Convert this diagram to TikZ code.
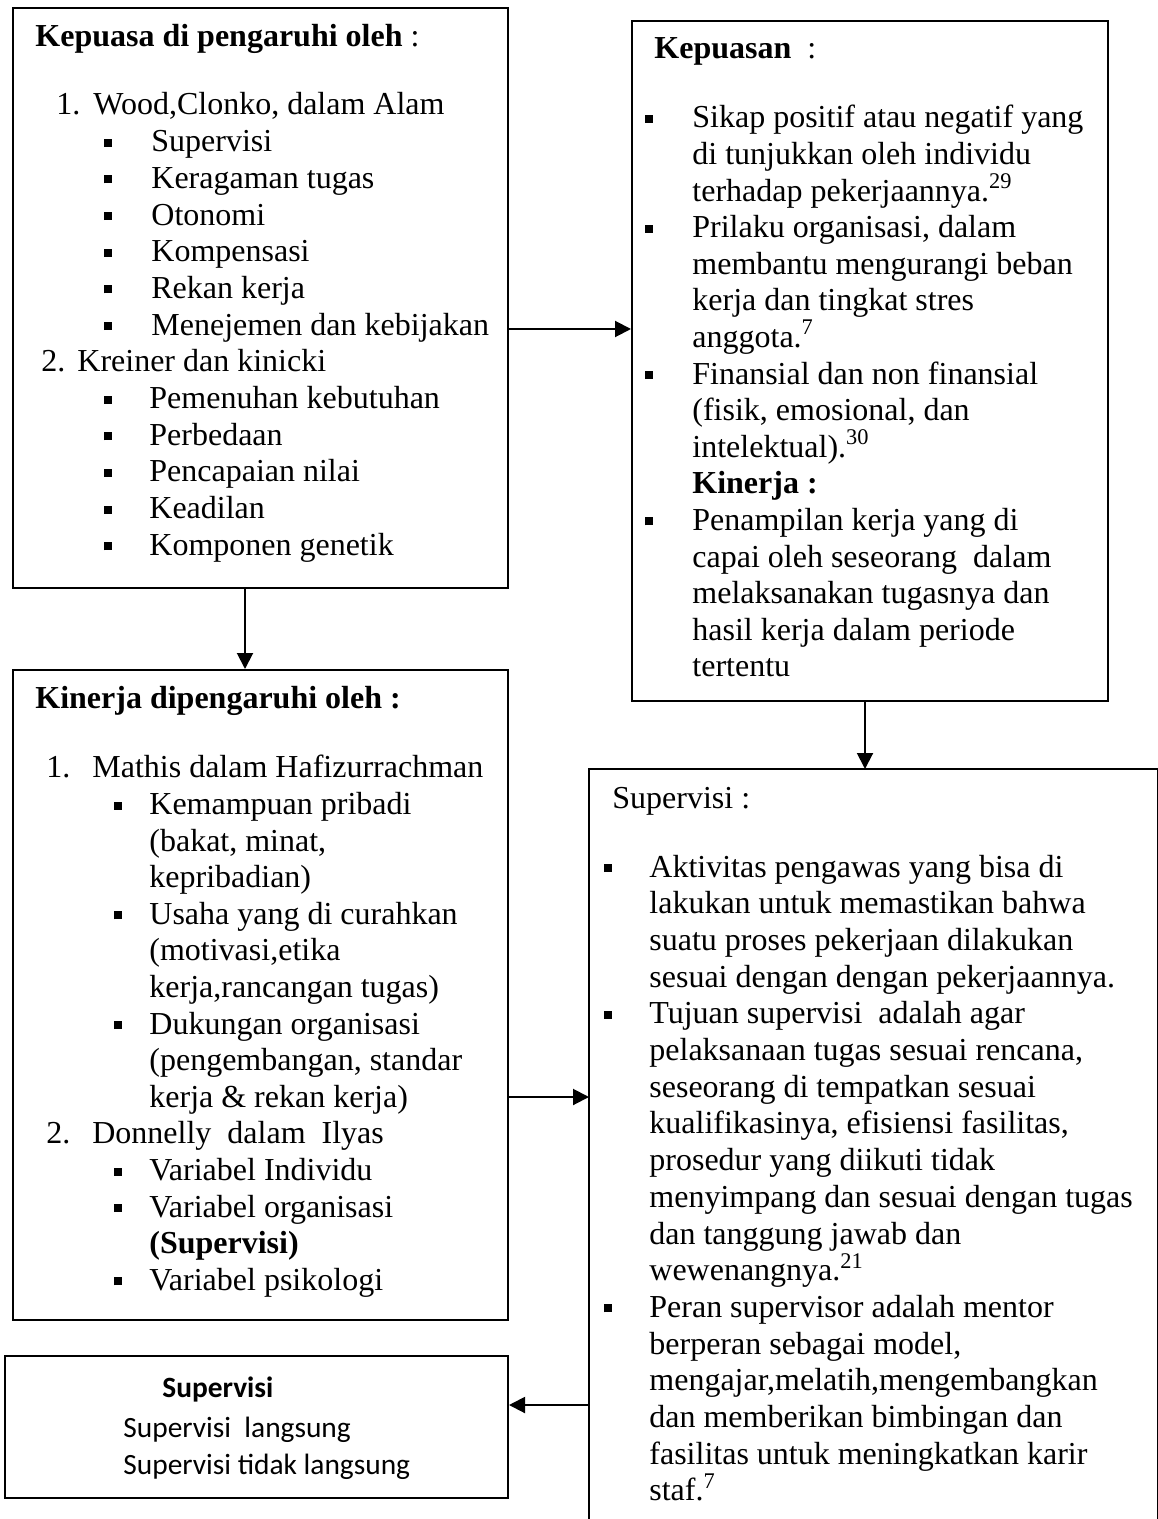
\documentclass[tikz,border=0pt]{standalone}
\usepackage{fontspec}
\setmainfont{Liberation Serif}
\newfontfamily\calib{Carlito}
\usetikzlibrary{arrows.meta}
\newcommand{\bul}{\rule[2.5pt]{4pt}{4pt}}
\newcommand{\one}[2]{\hbox to 0pt{\kern\dimexpr#1pt/2\relax#2\hss}}
\newcommand{\two}[4]{\hbox to 0pt{\rlap{\kern\dimexpr#1pt/2\relax#2}\kern\dimexpr#3pt/2\relax#4\hss}}
\newcommand{\gap}[1]{\vskip\dimexpr#1pt/2\relax}
\newcommand{\blk}[2]{\parbox[t]{1pt}{\fontsize{16pt}{#1pt}\selectfont #2}}
\tikzset{
  box/.style={draw, line width=1pt, inner sep=0, anchor=north west},
  txt/.style={anchor=base west, inner sep=0},
  arr/.style={line width=1pt, -{Triangle[length=8pt,width=8pt]}}
}
\begin{document}
\begin{tikzpicture}[x=0.5pt,y=-0.5pt]
\fill[white] (0,0) rectangle (1157,1519);
\useasboundingbox (0,0) rectangle (1157,1519);
% boxes
\node[box, minimum width=247.5pt, minimum height=290pt] (b1) at (12,7) {};
\node[box, minimum width=238pt, minimum height=340pt] (b2) at (631,20) {};
\node[box, minimum width=247.5pt, minimum height=325pt] (b3) at (12,669) {};
\node[box, draw=none, minimum width=283.5pt, minimum height=400pt] (b4) at (589,769) {};
\draw[line width=1pt] (b4.south west) -- (b4.north west) -- (b4.north east) -- (b4.south east);
\node[box, minimum width=251.5pt, minimum height=71pt] (b5) at (4,1355) {};
% texts
\node[txt] (t1) at (0,47) {\blk{18.35}{%
\one{34}{\textbf{Kepuasa di pengaruhi oleh} :}
\gap{31.3}
\two{55}{1.}{92}{Wood,Clonko, dalam Alam}
\two{103}{\bul}{150}{Supervisi}
\two{103}{\bul}{150}{Keragaman tugas}
\two{103}{\bul}{150}{Otonomi}
\two{103}{\bul}{150}{Kompensasi}
\two{103}{\bul}{150}{Rekan kerja}
\two{103}{\bul}{150}{Menejemen dan kebijakan}
\two{40}{2.}{76}{Kreiner dan kinicki}
\two{103}{\bul}{148}{Pemenuhan kebutuhan}
\two{103}{\bul}{148}{Perbedaan}
\two{103}{\bul}{148}{Pencapaian nilai}
\two{103}{\bul}{148}{Keadilan}
\two{103}{\bul}{148}{Komponen genetik}
}};
\node[txt] (t2) at (0,59) {\blk{18.3}{%
\one{653}{\textbf{Kepuasan}\ \ :}
\gap{32.3}
\two{644}{\bul}{691}{Sikap positif atau negatif yang}
\one{691}{di tunjukkan oleh individu}
\one{691}{terhadap pekerjaannya.\textsuperscript{29}}
\two{644}{\bul}{691}{Prilaku organisasi, dalam}
\one{691}{membantu mengurangi beban}
\one{691}{kerja dan tingkat stres}
\one{691}{anggota.\textsuperscript{7}}
\two{644}{\bul}{691}{Finansial dan non finansial}
\one{691}{(fisik, emosional, dan}
\one{691}{intelektual).\textsuperscript{30}}
\one{691}{\textbf{Kinerja :}}
\two{644}{\bul}{691}{Penampilan kerja yang di}
\one{691}{capai oleh seseorang\ \ dalam}
\one{691}{melaksanakan tugasnya dan}
\one{691}{hasil kerja dalam periode}
\one{691}{tertentu}
}};
\node[txt] (t3) at (0,708) {\blk{18.3}{%
\one{34}{\textbf{Kinerja dipengaruhi oleh :}}
\gap{33.3}
\two{45}{1.}{91}{Mathis dalam Hafizurrachman}
\two{113}{\bul}{148}{Kemampuan pribadi}
\one{148}{(bakat, minat,}
\one{148}{kepribadian)}
\two{113}{\bul}{148}{Usaha yang di curahkan}
\one{148}{(motivasi,etika}
\one{148}{kerja,rancangan tugas)}
\two{113}{\bul}{148}{Dukungan organisasi}
\one{148}{(pengembangan, standar}
\one{148}{kerja \& rekan kerja)}
\two{45}{2.}{91}{Donnelly\ \ dalam\ \ Ilyas}
\two{113}{\bul}{148}{Variabel Individu}
\two{113}{\bul}{148}{Variabel organisasi}
\one{148}{\textbf{(Supervisi)}}
\two{113}{\bul}{148}{Variabel psikologi}
}};
\node[txt] (t4) at (0,808) {\blk{18.35}{%
\one{611}{Supervisi :}
\gap{32.3}
\two{603}{\bul}{648}{Aktivitas pengawas yang bisa di}
\one{648}{lakukan untuk memastikan bahwa}
\one{648}{suatu proses pekerjaan dilakukan}
\one{648}{sesuai dengan dengan pekerjaannya.}
\two{603}{\bul}{648}{Tujuan supervisi\ \ adalah agar}
\one{648}{pelaksanaan tugas sesuai rencana,}
\one{648}{seseorang di tempatkan sesuai}
\one{648}{kualifikasinya, efisiensi fasilitas,}
\one{648}{prosedur yang diikuti tidak}
\one{648}{menyimpang dan sesuai dengan tugas}
\one{648}{dan tanggung jawab dan}
\one{648}{wewenangnya.\textsuperscript{21}}
\two{603}{\bul}{648}{Peran supervisor adalah mentor}
\one{648}{berperan sebagai model,}
\one{648}{mengajar,melatih,mengembangkan}
\one{648}{dan memberikan bimbingan dan}
\one{648}{fasilitas untuk meningkatkan karir}
\one{648}{staf.\textsuperscript{7}}
}};
\node[txt] (t5) at (0,1397) {\parbox[t]{1pt}{\calib\fontsize{14.7pt}{18.5pt}\selectfont
\one{161}{\textbf{Supervisi}}
\gap{3}
\one{122}{Supervisi\ \ langsung}
\one{122}{Supervisi tidak langsung}
}};
% connectors
\coordinate (a1) at (0,329);
\coordinate (a2) at (245,0);
\coordinate (a3) at (865,0);
\coordinate (a4) at (0,1097);
\coordinate (a5) at (0,1405);
\draw[arr] (b1.east |- a1) -- (b2.west |- a1);
\draw[arr] (b1.south -| a2) -- (b3.north -| a2);
\draw[arr] (b2.south -| a3) -- (b4.north -| a3);
\draw[arr] (b3.east |- a4) -- (b4.west |- a4);
\draw[arr] (b4.west |- a5) -- (b5.east |- a5);
\end{tikzpicture}
\end{document}
